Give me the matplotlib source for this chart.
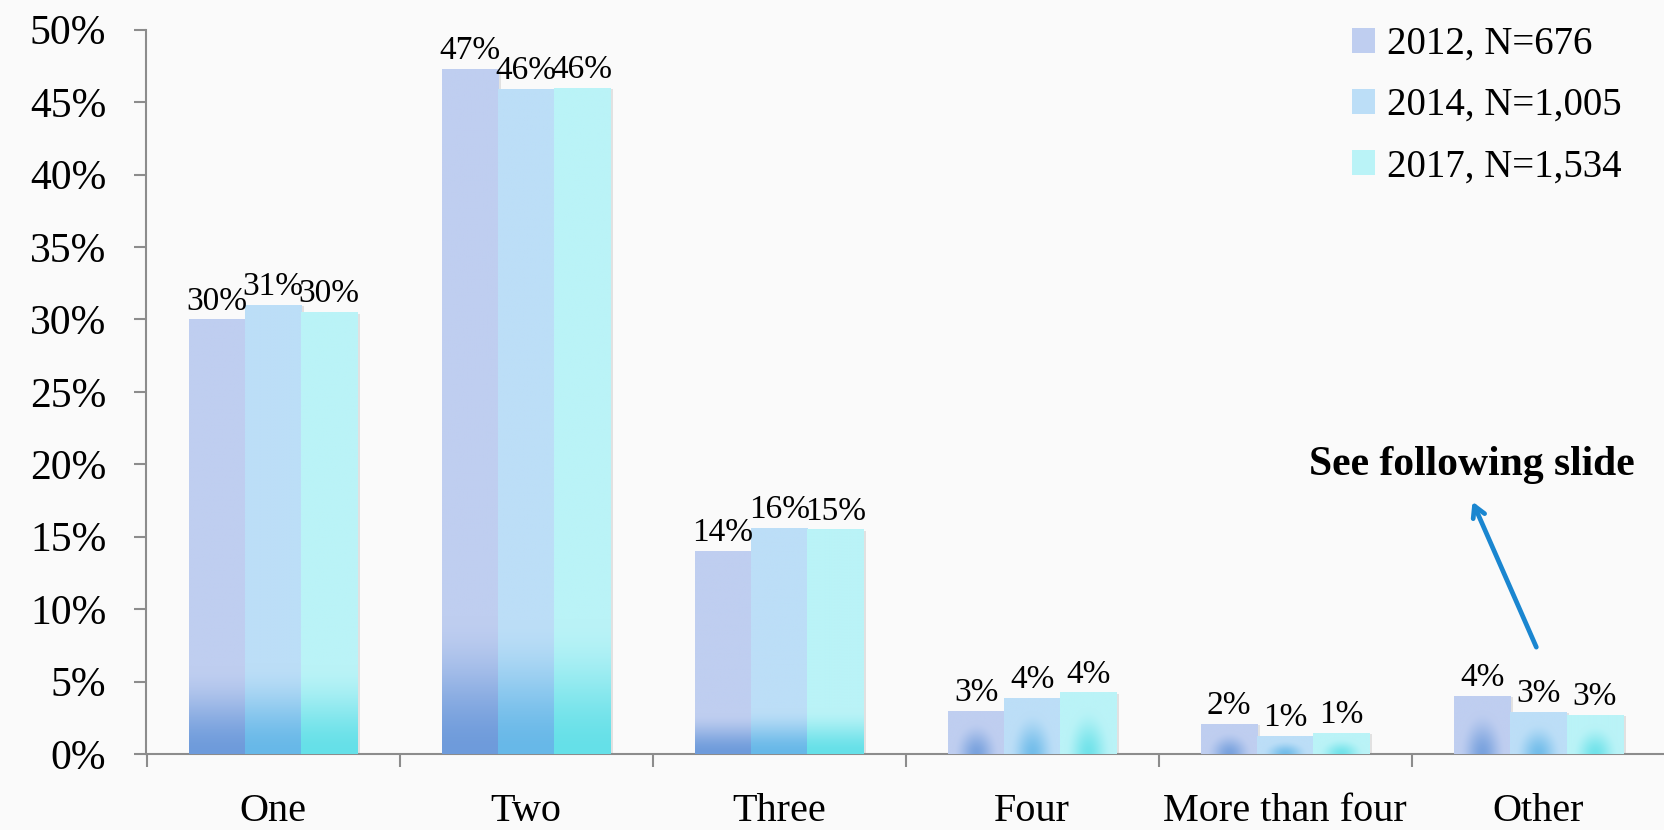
import numpy as np
import matplotlib
matplotlib.use("Agg")
import matplotlib.pyplot as plt
from matplotlib.colors import to_rgb
from matplotlib.patches import Patch
import matplotlib.patheffects as pe

categories = ["One", "Two", "Three", "Four", "More than four", "Other"]
series_names = ["2012, N=676", "2014, N=1,005", "2017, N=1,534"]
v2012 = [30.0, 47.3, 14.0, 3.0, 2.1, 4.0]
v2014 = [31.0, 45.9, 15.6, 3.9, 1.25, 2.9]
v2017 = [30.5, 46.0, 15.5, 4.25, 1.45, 2.7]
labels2012 = ["30%", "47%", "14%", "3%", "2%", "4%"]
labels2014 = ["31%", "46%", "16%", "4%", "1%", "3%"]
labels2017 = ["30%", "46%", "15%", "4%", "1%", "3%"]
yticks = [0, 5, 10, 15, 20, 25, 30, 35, 40, 45, 50]
ytick_labels = [f"{v}%" for v in yticks]

top_colors = ["#BFCEF0", "#BCDEF7", "#BAF3F7"]
bottom_colors = ["#6E9BDB", "#67B8E8", "#65E0E8"]

plt.rcParams['font.family'] = ['Liberation Serif', 'DejaVu Serif']

fig = plt.figure(figsize=(16.65, 8.3), dpi=100, facecolor="#FAFAFA")
ax = fig.add_axes([146.5 / 1665, 1 - 754 / 830, 1 - 146.5 / 1665, (754 - 29.7) / 830])
ax.set_facecolor("none")

x = np.arange(len(categories))
width = 0.222
all_vals = [v2012, v2014, v2017]
all_labels = [labels2012, labels2014, labels2017]


def gradient_fill(rect, top, bottom):
    x0, w, h = rect.get_x(), rect.get_width(), rect.get_height()
    ct = np.array(to_rgb(top))
    cb = np.array(to_rgb(bottom))
    if h >= 8:
        n = 300
        t = np.linspace(0, 1, n)[:, None]
        g = np.clip(t / 0.2, 0, 1)
        g = g * g * (3 - 2 * g)
        g = np.repeat(g, 2, axis=1)
    else:
        ny, nx = 80, 80
        yy = np.linspace(0, 1, ny)[:, None]
        xx = np.linspace(-1, 1, nx)[None, :]
        d = np.sqrt((xx / 0.85) ** 2 + (yy / 0.75) ** 2)
        g = np.clip(d, 0, 1)
        g = g * g * (3 - 2 * g)
        g = 0.15 + 0.85 * g
    img = cb[None, None, :] * (1 - g[..., None]) + ct[None, None, :] * g[..., None]
    im = ax.imshow(img, origin="lower", extent=(x0, x0 + w, 0, h), aspect="auto",
                   zorder=3, interpolation="bilinear")
    im.set_clip_path(rect)


for i, (vals, name) in enumerate(zip(all_vals, series_names)):
    offs = (i - 1) * width
    bars = ax.bar(x + offs, vals, width, color=top_colors[i], zorder=2,
                  linewidth=0,
                  path_effects=[pe.SimplePatchShadow(offset=(2, -1), shadow_rgbFace="#9a9a9a", alpha=0.25),
                                pe.Normal()])
    for rect in bars:
        gradient_fill(rect, top_colors[i], bottom_colors[i])
    for rect, lab in zip(bars, all_labels[i]):
        ax.text(rect.get_x() + rect.get_width() / 2, rect.get_height() + 0.2, lab,
                ha="center", va="bottom", fontsize=24, zorder=5)

ax.set_xlim(-0.5, len(categories) - 0.5)
ax.set_ylim(0, 50)

for s in ["top", "right"]:
    ax.spines[s].set_visible(False)
for s in ["left", "bottom"]:
    ax.spines[s].set_color("#8c8c8c")
    ax.spines[s].set_linewidth(1.5)

ax.set_yticks(yticks)
ax.set_yticklabels(ytick_labels, fontsize=30)
ax.tick_params(axis="y", direction="out", length=9, width=1.5, color="#8c8c8c", pad=20)

ax.set_xticks(x)
ax.set_xticklabels(categories, fontsize=29)
ax.set_xticks(np.arange(len(categories)) - 0.5, minor=True)
ax.tick_params(axis="x", which="major", length=0, pad=28)
ax.tick_params(axis="x", which="minor", direction="out", length=9, width=1.5, color="#8c8c8c")

handles = [Patch(facecolor=c, edgecolor="none") for c in top_colors]
leg = ax.legend(handles, series_names, loc="upper left",
                bbox_to_anchor=(1352 / 1665, 1 - 26 / 830),
                bbox_transform=fig.transFigure, frameon=False, fontsize=28,
                handlelength=0.6, handleheight=0.6, handletextpad=0.3,
                labelspacing=0.62, borderpad=0, borderaxespad=0)

ax.annotate("", xy=(4.735, 17.6), xytext=(4.996, 7.2),
            arrowprops=dict(arrowstyle="->,head_length=0.8,head_width=0.45",
                            color="#1A86D0", lw=3.4), zorder=6)
ax.text(4.735, 19.95, "See following slide", ha="center", va="center",
        fontsize=30, fontweight="bold", zorder=6)

fig.savefig("out.png", dpi=100, facecolor=fig.get_facecolor())
